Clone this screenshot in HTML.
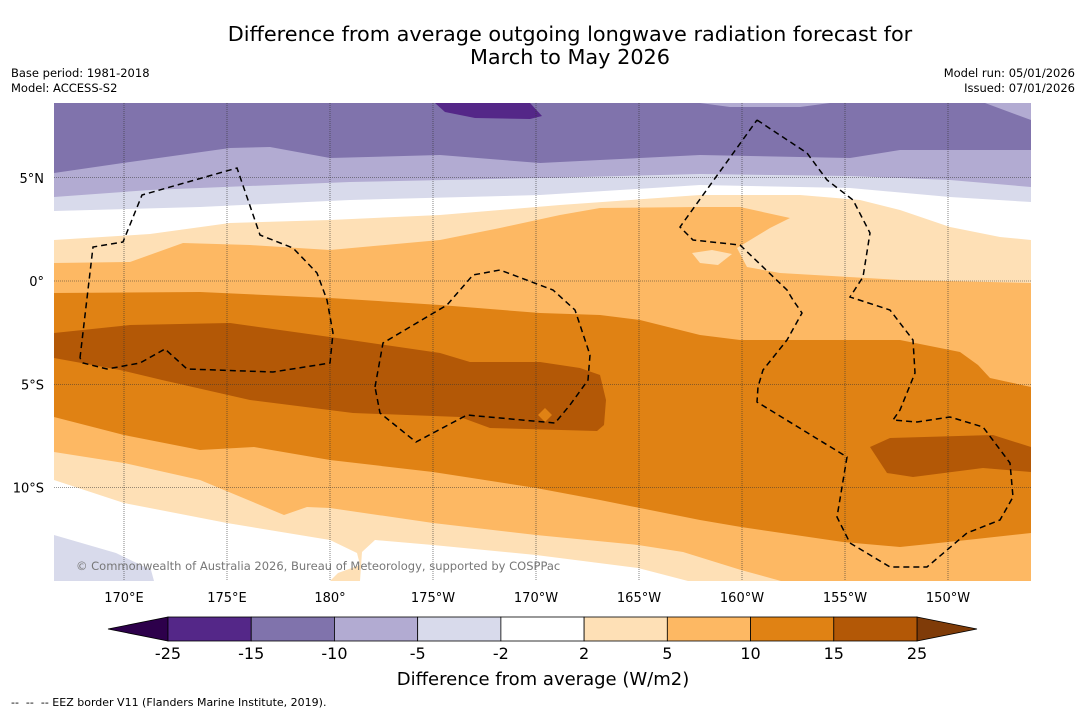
<!DOCTYPE html>
<html><head><meta charset="utf-8">
<style>
body{margin:0;background:#fff;width:1085px;height:713px;overflow:hidden;font-family:"Liberation Sans","DejaVu Sans",sans-serif;}
svg{position:absolute;left:0;top:0}
text{font-family:"DejaVu Sans","Liberation Sans",sans-serif}
</style></head>
<body>
<svg id="chart" width="1085" height="713" viewBox="0 0 1085 713">
<text x="570" y="41" font-size="20.8" text-anchor="middle" fill="#000">Difference from average outgoing longwave radiation forecast for</text>
<text x="570" y="64" font-size="20.8" text-anchor="middle" fill="#000">March to May 2026</text>
<text x="11" y="77" font-size="11.5">Base period: 1981-2018</text>
<text x="11" y="92" font-size="11.5">Model: ACCESS-S2</text>
<text x="1075" y="77" font-size="11.5" text-anchor="end">Model run: 05/01/2026</text>
<text x="1075" y="92" font-size="11.5" text-anchor="end">Issued: 07/01/2026</text>
<defs><clipPath id="mapclip"><rect x="54" y="103" width="977" height="478"/></clipPath></defs>
<g id="map" clip-path="url(#mapclip)">
<rect x="54" y="103" width="977" height="478" fill="#ffffff"/>
<polygon fill="#d8daeb" points="54,103 1031,103 1031,202 950,197 850,188 700,185 540,195 350,200 200,207 54,211"/>
<polygon fill="#b2abd2" points="54,103 1031,103 1031,187 950,180 850,176 700,174 540,178 350,182 150,190 54,197"/>
<polygon fill="#8073ac" points="54,103 985,103 1031,120 1031,150 900,150 850,158 700,155 600,160 540,163 440,155 330,158 270,147 230,148 130,162 54,173"/>
<polygon fill="#b2abd2" points="700,103 830,103 800,107 730,107"/>
<polygon fill="#542788" points="435,103 530,103 542,116 530,119 475,118 445,112"/>
<polygon fill="#fee0b6" points="54,240 150,234 230,223 330,220 440,215 560,205 700,195 800,195 860,200 900,210 950,227 1000,237 1031,240 1031,581 54,581"/>
<polygon fill="#fdb863" points="54,263 130,262 183,243 250,245 330,250 440,240 500,228 560,215 600,208 700,207 740,207 790,218 770,228 737,248 747,267 780,273 900,280 1031,283 1031,581 54,581"/>
<polygon fill="#fee0b6" points="692,253 712,250 732,254 718,265 700,263"/>
<polygon fill="#e08214" points="54,293 200,292 330,298 440,305 540,313 600,315 640,320 700,335 740,340 900,340 960,352 978,365 990,378 1031,387 1031,533 967,540 900,547 843,542 741,527 700,520 600,500 536,488 433,472 330,460 254,447 200,450 124,435 54,417"/>
<polygon fill="#b35806" points="54,333 130,325 230,323 330,337 440,353 470,362 540,362 580,368 600,375 606,400 604,425 597,431 490,428 460,417 353,413 250,400 162,380 120,370 54,358"/>
<polygon fill="#e08214" points="545,408 552,415 545,422 538,415"/>
<polygon fill="#b35806" points="870,447 890,438 993,435 1031,447 1031,472 983,468 913,477 887,473"/>
<polygon fill="#fee0b6" points="54,452 124,463 200,480 284,515 307,507 330,508 433,523 536,535 638,545 683,552 741,570 781,581 54,581"/>
<polygon fill="#ffffff" points="54,480 124,503 227,523 330,540 357,553 360,565 338,573 330,581 54,581"/>
<polygon fill="#ffffff" points="360,581 362,552 375,540 433,545 536,555 638,568 688,581"/>
<polygon fill="#d8daeb" points="54,535 116,553 151,570 154,581 54,581"/>
<g id="grid"></g>
<g fill="none" stroke="#000" stroke-width="1.5" stroke-dasharray="6,4">
<polyline points="80,358 93,247 123,242 142,195 237,168 260,235 293,248 317,273 327,300 333,333 330,363 273,372 187,369 165,349 140,363 107,369 83,363 80,358"/>
<polyline points="375,387 383,343 447,305 473,275 500,270 553,290 575,310 590,355 588,380 570,405 555,423 467,415 416,442 380,413 375,387"/>
<polyline points="757,120 807,153 827,180 853,200 870,233 863,277 850,297 890,310 913,340 915,373 900,410 893,420 917,422 950,417 983,427 1010,463 1013,497 1000,520 967,533 947,550 927,567 890,567 850,543 837,517 847,457 757,402 758,387 763,370 787,340 802,313 793,300 787,290 740,245 693,240 680,227 757,120"/>
</g>
<text x="76" y="570" font-size="11.5" fill="#777">© Commonwealth of Australia 2026, Bureau of Meteorology, supported by COSPPac</text>
</g>
<g id="axes"></g>
<g id="colorbar"></g>
<text x="543" y="685" font-size="18" text-anchor="middle">Difference from average (W/m2)</text>
<text x="11" y="706" font-size="11" xml:space="preserve" style="white-space:pre">--  --  -- EEZ border V11 (Flanders Marine Institute, 2019).</text>
</svg>
<script>
const lonTicks = [170, 175, 180, -175, -170, -165, -160, -155, -150];
const lonLabels = ["170°E","175°E","180°","175°W","170°W","165°W","160°W","155°W","150°W"];
const latTicks = [5, 0, -5, -10];
const latLabels = ["5°N","0°","5°S","10°S"];
const levels = ["-25","-15","-10","-5","-2","2","5","10","15","25"];
const bandColors = ["#542788","#8073ac","#b2abd2","#d8daeb","#ffffff","#fee0b6","#fdb863","#e08214","#b35806"];
const extendColors = ["#2d004b","#7f3b08"];

const NS="http://www.w3.org/2000/svg";
function xLon(l){ let e = l<0 ? 360+l : l; return 124 + (e-170)*20.6; }
function yLat(l){ return 281 - l*20.65; }
function mk(tag, attrs, parent){ const el=document.createElementNS(NS,tag); for(const k in attrs) el.setAttribute(k,attrs[k]); parent.appendChild(el); return el; }

const grid=document.getElementById('grid');
const axes=document.getElementById('axes');
lonTicks.forEach((l,i)=>{
  const x=xLon(l);
  const g=mk('line',{x1:x,x2:x,y1:103,y2:581,stroke:'#333','stroke-width':0.6,'stroke-dasharray':'1,1'},grid);
  
  
  const t=mk('text',{x:x,y:602,'font-size':13,'text-anchor':'middle'},axes);
  t.textContent=lonLabels[i];
  
  
});
latTicks.forEach((l,i)=>{
  const y=yLat(l);
  const g=mk('line',{x1:54,x2:1031,y1:y,y2:y,stroke:'#333','stroke-width':0.6,'stroke-dasharray':'1,1'},grid);
  
  
  const t=mk('text',{x:44,y:y+5,'font-size':13,'text-anchor':'end'},axes);
  t.textContent=latLabels[i];
  
  
});

const cb=document.getElementById('colorbar');
const cbX0=168, cbX1=917, cbY=617, cbH=24;
const bw=(cbX1-cbX0)/bandColors.length;
function xLevel(i){ return cbX0 + i*bw; }
const lt=mk('polygon',{points:`108,${cbY+cbH/2} ${cbX0},${cbY} ${cbX0},${cbY+cbH}`,fill:extendColors[0],stroke:'#000','stroke-width':0.8},cb);


const rt=mk('polygon',{points:`${cbX1},${cbY} 977,${cbY+cbH/2} ${cbX1},${cbY+cbH}`,fill:extendColors[1],stroke:'#000','stroke-width':0.8},cb);


bandColors.forEach((c,i)=>{
  const r=mk('rect',{x:xLevel(i),y:cbY,width:bw,height:cbH,fill:c,stroke:'#000','stroke-width':0.8},cb);
  
  
});
levels.forEach((v,i)=>{
  const t=mk('text',{x:xLevel(i),y:659,'font-size':16,'text-anchor':'middle'},cb);
  t.textContent=v;
  
  
});
</script>
</body></html>
